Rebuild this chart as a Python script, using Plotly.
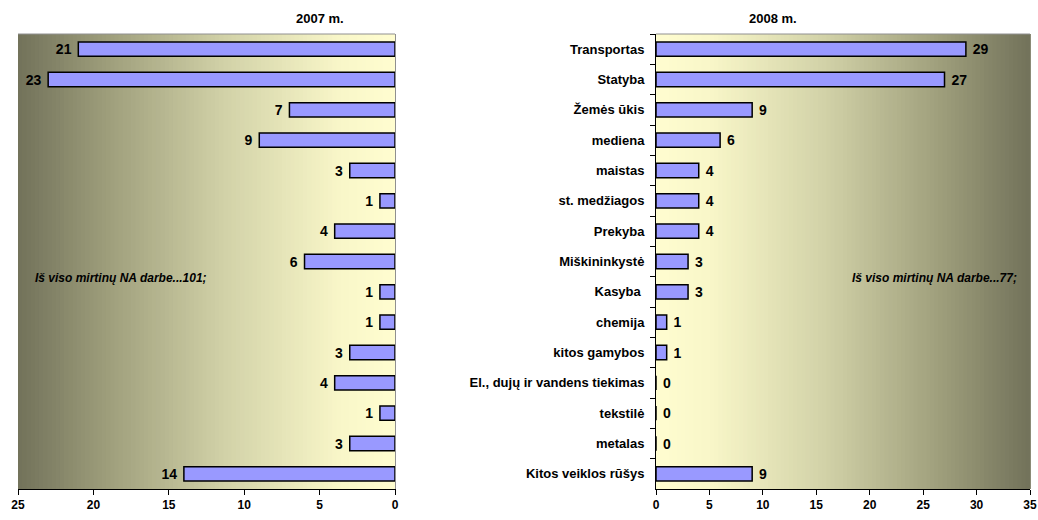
import plotly.graph_objects as go

categories = ["Transportas", "Statyba", "Žemės ūkis", "mediena", "maistas",
              "st. medžiagos", "Prekyba", "Miškininkystė", "Kasyba ", "chemija",
              "kitos gamybos", "El., dujų ir vandens tiekimas", "tekstilė",
              "metalas", "Kitos veiklos rūšys"]
values_2007 = [21, 23, 7, 9, 3, 1, 4, 6, 1, 1, 3, 4, 1, 3, 14]
values_2008 = [29, 27, 9, 6, 4, 4, 4, 3, 3, 1, 1, 0, 0, 0, 9]
panel_titles = ["2007 m.", "2008 m."]
totals_text = ["Iš viso mirtinų NA darbe...101;", "Iš viso mirtinų NA darbe...77;"]
ticks_left = [0, 5, 10, 15, 20, 25]
ticks_right = [0, 5, 10, 15, 20, 25, 30, 35]

FONT = "Liberation Sans, Arial, sans-serif"
BAR = "#9999ff"

W, H = 1038, 520

def px(x):
    return x / W

def py(y):
    return 1 - y / H

LX0, LX1 = px(18), px(395)
RX0, RX1 = px(656), px(1030)
Y0, Y1 = py(489), py(34)

fig = go.Figure()
for vals, xa, ya in [(values_2007, "x", "y"), (values_2008, "x2", "y2")]:
    fig.add_trace(go.Bar(
        y=categories, x=vals, orientation="h", xaxis=xa, yaxis=ya,
        marker=dict(color=BAR, line=dict(color="black", width=1.5)),
        width=0.47, text=[" " + str(v) + " " for v in vals], textposition="outside",
        cliponaxis=False, constraintext="none",
        textfont=dict(family=FONT, size=14, color="black", weight="bold"),
        showlegend=False))

# gradient background (style only)
def lerp(c1, c2, t):
    return tuple(round(a + (b - a) * t) for a, b in zip(c1, c2))

stops = [(0.0, (255, 253, 208)), (0.15, (248, 246, 200)), (0.45, (210, 210, 168)),
         (0.75, (160, 160, 125)), (1.0, (114, 114, 90))]

def grad(t):
    for (t0, c0), (t1, c1) in zip(stops[:-1], stops[1:]):
        if t <= t1:
            return lerp(c0, c1, (t - t0) / (t1 - t0))
    return stops[-1][1]

N = 90
shapes = []
for panel, (x0, x1, light_left) in enumerate([(LX0, LX1, False), (RX0, RX1, True)]):
    w = (x1 - x0) / N
    for i in range(N):
        frac = (i + 0.5) / N
        t = frac if light_left else 1 - frac
        c = grad(t)
        shapes.append(dict(type="rect", xref="paper", yref="paper",
                           x0=x0 + i * w, x1=x0 + (i + 1) * w + 0.0008, y0=Y0, y1=Y1,
                           fillcolor="rgb(%d,%d,%d)" % c, line=dict(width=0),
                           layer="below"))
    shapes.append(dict(type="line", xref="paper", yref="paper", x0=x0, x1=x1,
                       y0=Y1, y1=Y1, line=dict(color="#909090", width=1)))

annotations = [
    dict(text="<b>%s</b>" % panel_titles[0], x=px(320), y=py(19),
         xref="paper", yref="paper", xanchor="center", yanchor="middle",
         showarrow=False, font=dict(family=FONT, size=13, color="black")),
    dict(text="<b>%s</b>" % panel_titles[1], x=px(773), y=py(19),
         xref="paper", yref="paper", xanchor="center", yanchor="middle",
         showarrow=False, font=dict(family=FONT, size=13, color="black")),
    dict(text="<b><i>%s</i></b>" % totals_text[0], x=px(33), y=py(278),
         xref="paper", yref="paper", xanchor="left", yanchor="middle",
         showarrow=False, font=dict(family=FONT, size=12, color="black")),
    dict(text="<b><i>%s</i></b>" % totals_text[1], x=px(1019), y=py(278),
         xref="paper", yref="paper", xanchor="right", yanchor="middle",
         showarrow=False, font=dict(family=FONT, size=12, color="black")),
]

axis_font = dict(family=FONT, size=12, color="black", weight="bold")

fig.update_layout(
    width=W, height=H,
    margin=dict(l=0, r=0, t=0, b=0, autoexpand=False),
    paper_bgcolor="white", plot_bgcolor="rgba(0,0,0,0)",
    shapes=shapes, annotations=annotations,
    xaxis=dict(domain=[LX0, LX1], range=[25, 0], tickvals=ticks_left,
               showgrid=False, zeroline=False, showline=True, linecolor="black",
               linewidth=1, ticks="outside", ticklen=5, tickcolor="black",
               tickfont=axis_font, anchor="y", automargin=False),
    yaxis=dict(domain=[Y0, Y1], categoryorder="array", categoryarray=categories,
               autorange="reversed", showticklabels=False, showgrid=False,
               zeroline=False, showline=True, linecolor="#909090", side="right",
               anchor="x", ticks="", automargin=False),
    xaxis2=dict(domain=[RX0, RX1], range=[0, 35], tickvals=ticks_right,
                showgrid=False, zeroline=False, showline=True, linecolor="black",
                linewidth=1, ticks="outside", ticklen=5, tickcolor="black",
                tickfont=axis_font, anchor="y2", automargin=False,
                ticklabeloverflow="allow"),
    yaxis2=dict(domain=[Y0, Y1], categoryorder="array", categoryarray=categories,
                autorange="reversed", showgrid=False, zeroline=False,
                showline=True, linecolor="black", linewidth=1,
                ticks="outside", ticklen=5, tickcolor="black", tickson="boundaries",
                tickfont=dict(family=FONT, size=13, color="black", weight="bold"),
                anchor="x2", ticklabelstandoff=8, automargin=False),
)

fig.write_html("out.html", config={"displayModeBar": False},
               post_script="document.body.style.margin='0';document.body.style.overflow='hidden';")
